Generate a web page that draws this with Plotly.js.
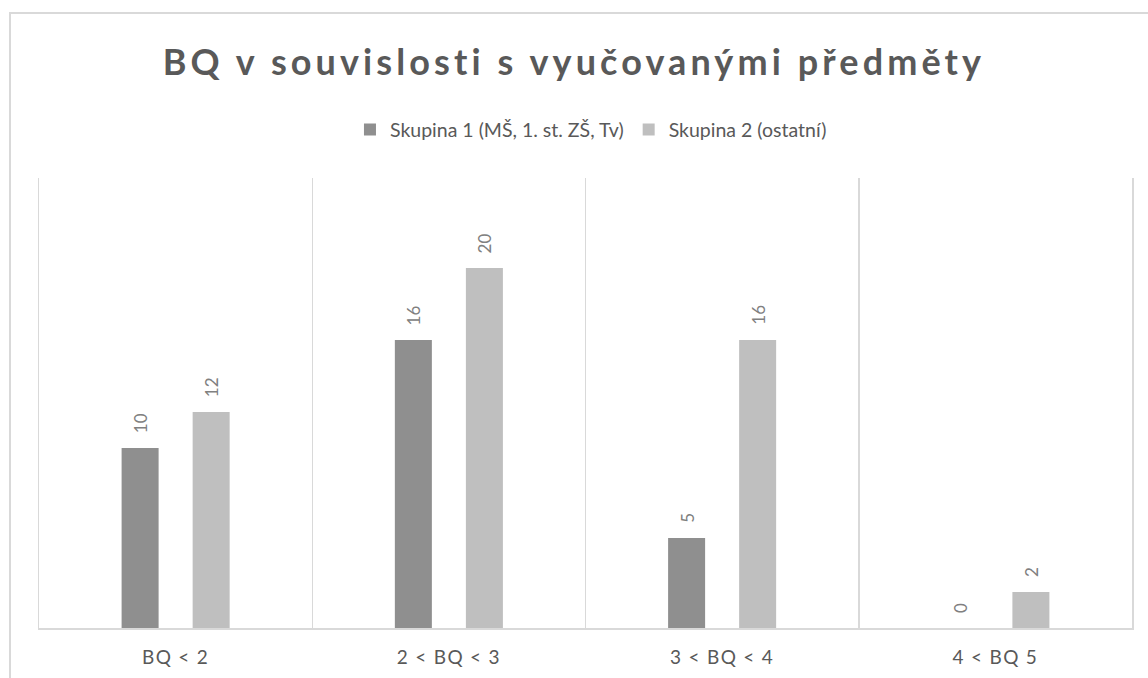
<!DOCTYPE html>
<html><head><meta charset="utf-8">
<script src="https://cdn.plot.ly/plotly-3.0.1.min.js"></script>
<style>
html,body{margin:0;padding:0;background:#fff;}
#frame{position:absolute;left:9px;top:12px;width:1150px;height:700px;border:2px solid #d9d9d9;box-sizing:border-box;pointer-events:none;z-index:5;}
#chart{width:1148px;height:678px;}
.xtick text{letter-spacing:1.3px;}
.gtitle{letter-spacing:4.1px;}
</style></head>
<body>
<div id="frame"></div>
<div id="chart"></div>
<script>
const categories = ["BQ < 2", "2 < BQ < 3", "3 < BQ < 4", "4 < BQ 5"];
const group1Name = "Skupina 1 (MŠ, 1. st. ZŠ, Tv)";
const group2Name = "Skupina 2 (ostatní)";
const group1Values = [10, 16, 5, 0];
const group2Values = [12, 20, 16, 2];

const c1 = "#8f8f8f", c2 = "#bfbfbf";
const FONT = "Lato, 'Open Sans', sans-serif";

const traces = [
  {type:"bar", name:group1Name, x:categories, y:group1Values, marker:{color:c1}, hoverinfo:"none"},
  {type:"bar", name:group2Name, x:categories, y:group2Values, marker:{color:c2}, hoverinfo:"none"}
];

const annotations = [];
[[group1Values,-35.5],[group2Values,35.5]].forEach(([vals,shift])=>{
  vals.forEach((v,i)=>{
    annotations.push({x:categories[i], y:v, xref:"x", yref:"y", text:String(v), showarrow:false,
      textangle:-90, xshift:shift, yanchor:"bottom", yshift:13,
      font:{family:FONT, size:17, color:"#808080"}});
  });
});

const layout = {
  width:1148, height:678,
  margin:{l:39, r:16, t:178, b:50},
  paper_bgcolor:"rgba(0,0,0,0)", plot_bgcolor:"rgba(0,0,0,0)",
  barmode:"group", bargap:0.48, bargroupgap:0.479,
  title:{text:"BQ v souvislosti s vyučovanými předměty", x:0.5, xanchor:"center", y:0.908, yanchor:"middle",
    font:{family:FONT, size:36, color:"#595959", weight:"bold"}},
  showlegend:true,
  legend:{orientation:"h", x:0.505, xanchor:"center", y:1.107, yanchor:"middle", yref:"paper",
    font:{family:FONT, size:19.5, color:"#595959"}, traceorder:"normal",
    itemwidth:30, bgcolor:"rgba(0,0,0,0)"},
  xaxis:{type:"category", tickson:"boundaries", showgrid:true, gridcolor:"#d9d9d9", gridwidth:1.5,
    showline:true, linecolor:"#d9d9d9", linewidth:2, ticks:"", ticklen:0, ticklabelstandoff:11,
    tickfont:{family:FONT, size:19, color:"#595959"}, fixedrange:true},
  yaxis:{range:[0,25], showticklabels:false, ticks:"", showgrid:false, zeroline:false, fixedrange:true,
    showline:true, mirror:true, linecolor:"#d9d9d9", linewidth:1.5},
  annotations:annotations
};

Plotly.newPlot("chart", traces, layout, {displayModeBar:false, staticPlot:true});
</script>
</body></html>
